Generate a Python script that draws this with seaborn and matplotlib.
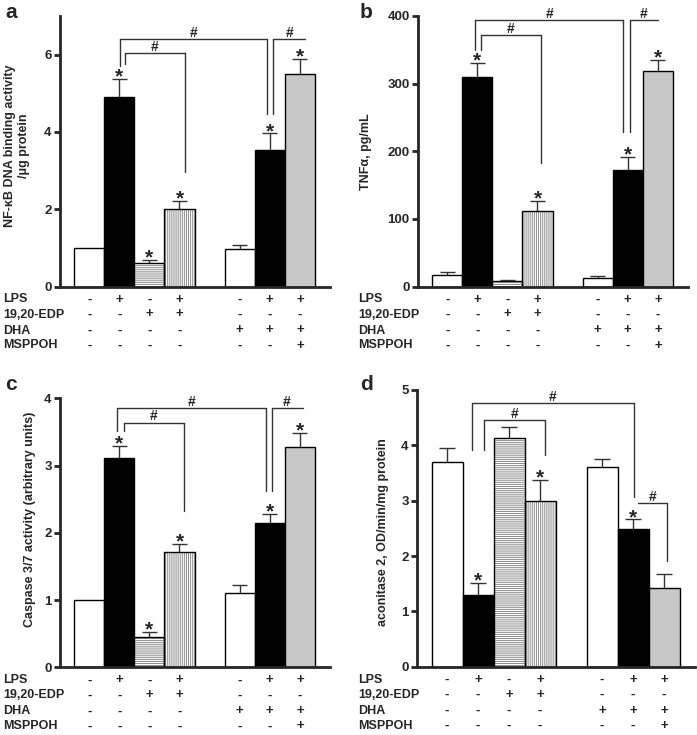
import numpy as np
import pandas as pd
import seaborn as sns
import matplotlib.pyplot as plt
from matplotlib.patches import Rectangle

# treatment groups, a blank slot separates the two groups
conditions = ["Control", "LPS", "19,20-EDP", "LPS+19,20-EDP", "DHA", "LPS+DHA", "LPS+DHA+MSPPOH"]
order = conditions[:4] + [""] + conditions[4:]

treatments = ["LPS", "19,20-EDP", "DHA", "MSPPOH"]
treatment_signs = [
    ["-", "+", "-", "+", "-", "+", "+"],
    ["-", "-", "+", "+", "-", "-", "-"],
    ["-", "-", "-", "-", "+", "+", "+"],
    ["-", "-", "-", "-", "-", "-", "+"],
]

# a: NF-kB DNA binding
nfkb_mean = [1.0, 4.9, 0.62, 2.0, 0.97, 3.53, 5.5]
nfkb_sem = [0.0, 0.48, 0.07, 0.21, 0.11, 0.43, 0.38]
nfkb_stars = ["LPS", "19,20-EDP", "LPS+19,20-EDP", "LPS+DHA", "LPS+DHA+MSPPOH"]

# b: TNF-alpha
tnf_mean = [17, 310, 8, 111, 13, 172, 319]
tnf_sem = [4, 20, 2, 16, 2.5, 20, 16]
tnf_stars = ["LPS", "LPS+19,20-EDP", "LPS+DHA", "LPS+DHA+MSPPOH"]

# c: caspase 3/7
casp_mean = [1.0, 3.11, 0.45, 1.71, 1.10, 2.14, 3.28]
casp_sem = [0.0, 0.18, 0.07, 0.13, 0.12, 0.14, 0.20]
casp_stars = ["LPS", "19,20-EDP", "LPS+19,20-EDP", "LPS+DHA", "LPS+DHA+MSPPOH"]

# d: aconitase 2
aco_mean = [3.69, 1.30, 4.13, 2.99, 3.60, 2.49, 1.42]
aco_sem = [0.27, 0.22, 0.20, 0.39, 0.15, 0.17, 0.25]
aco_stars = ["LPS", "LPS+19,20-EDP", "LPS+DHA"]

bar_colors = {"Control": "white", "LPS": "black", "19,20-EDP": "white", "LPS+19,20-EDP": "white",
              "DHA": "white", "LPS+DHA": "black", "LPS+DHA+MSPPOH": "#c8c8c8"}
hatches = {"19,20-EDP": "--------", "LPS+19,20-EDP": "||||||||"}

W, H = 697, 735

sns.set_style("ticks")
plt.rcParams["font.family"] = ["Liberation Sans", "DejaVu Sans"]
plt.rcParams["font.weight"] = "bold"
plt.rcParams["axes.labelweight"] = "bold"
plt.rcParams["hatch.linewidth"] = 0.7
plt.rcParams["hatch.color"] = "#8a8a8a"

line_c = "#333333"


def draw_panel(ax, mean, sem, stars, brackets, ylabel, ymax, yticks, label_x, label_y):
    df = pd.DataFrame({"condition": conditions, "mean": mean})
    sns.barplot(data=df, x="condition", y="mean", hue="condition", order=order, hue_order=conditions,
                palette=bar_colors, dodge=False, width=1, errorbar=None, edgecolor="black",
                linewidth=1, legend=False, ax=ax)

    for p in ax.patches:
        c = order[int(round(p.get_x() + p.get_width() / 2))]
        if c in hatches:
            p.set_hatch(hatches[c])
            p.set_edgecolor("#8a8a8a")
            p.set_linewidth(0)
            ax.add_patch(Rectangle((p.get_x(), p.get_y()), p.get_width(), p.get_height(),
                                   fill=False, edgecolor="black", lw=1, zorder=p.get_zorder() + 0.1))

    for c, m, s in zip(conditions, mean, sem):
        x = order.index(c)
        if s > 0:
            ax.vlines(x, m, m + s, color=line_c, lw=1, zorder=1)
            ax.hlines(m + s, x - 0.25, x + 0.25, color=line_c, lw=1)
        if c in stars:
            ax.annotate("*", (x, m + s), xytext=(0, -2.5), textcoords="offset points",
                        ha="center", va="baseline", fontsize=15, fontweight="bold")

    for x0, x1, y, y0, y1 in brackets:
        ax.plot([x0, x1], [y, y], color=line_c, lw=1, clip_on=False)
        if y0 is not None:
            ax.plot([x0, x0], [y0, y], color=line_c, lw=1, clip_on=False)
        if y1 is not None:
            ax.plot([x1, x1], [y1, y], color=line_c, lw=1, clip_on=False)
        ax.annotate("#", ((x0 + x1) / 2, y), xytext=(0, 1.5), textcoords="offset points",
                    ha="center", va="baseline", fontsize=10, fontweight="bold")

    ax.set_xlim(-0.97, 8.0)
    ax.set_ylim(0, ymax)
    ax.set_yticks(yticks)
    ax.set_xticks([])
    ax.set_xlabel("")
    ax.set_ylabel(ylabel, fontsize=9, fontweight="bold")
    ax.yaxis.set_label_coords(label_x, label_y)
    ax.tick_params(axis="y", direction="out", length=4, width=2, labelsize=9.5, pad=2)
    sns.despine(ax=ax)
    for s in ["left", "bottom"]:
        ax.spines[s].set_linewidth(2)


def draw_table(fig, ax, label_px):
    bottom = ax.get_position().y0
    offsets = [13, 28, 44, 59]
    for name, signs, off in zip(treatments, treatment_signs, offsets):
        fig.text(label_px / W, bottom - off / H, name, ha="left", va="center",
                 fontsize=9, fontweight="bold")
        for c, s in zip(conditions, signs):
            ax.annotate(s, (order.index(c), 0), xycoords=ax.get_xaxis_transform(),
                        xytext=(0, -off * 0.72), textcoords="offset points",
                        ha="center", va="center", fontsize=9.5, fontweight="bold",
                        annotation_clip=False)


fig = plt.figure(figsize=(W / 100, H / 100), dpi=100)

ax_a = fig.add_axes([60 / W, 1 - 286.5 / H, 270 / W, 270.5 / H])
ax_b = fig.add_axes([418 / W, 1 - 286.5 / H, 270 / W, 270.5 / H])
ax_c = fig.add_axes([60 / W, 1 - 667.3 / H, 270 / W, 269 / H])
ax_d = fig.add_axes([417 / W, 1 - 666.7 / H, 278 / W, 276.7 / H])

draw_panel(ax_a, nfkb_mean, nfkb_sem, nfkb_stars,
           [(1.03, 5.9, 6.41, 5.70, 4.47), (1.2, 3.17, 6.04, 5.76, 2.96), (6.12, 7.17, 6.41, 4.47, None)],
           "NF-\u03baB DNA binding activity\n/\u03bcg protein", 7, [0, 2, 4, 6], -0.11, 0.52)
draw_panel(ax_b, tnf_mean, tnf_sem, tnf_stars,
           [(0.94, 5.84, 394, 350, 228), (1.11, 3.13, 372, 350, 182), (6.06, 7.0, 394, 228, None)],
           "TNF\u03b1, pg/mL", 400, [0, 100, 200, 300, 400], -0.17, 0.5)
draw_panel(ax_c, casp_mean, casp_sem, casp_stars,
           [(0.94, 5.87, 3.86, 3.52, 2.62), (1.17, 3.14, 3.64, 3.52, 2.32), (6.06, 7.09, 3.86, 2.62, None)],
           "Caspase 3/7 activity (arbitrary units)", 4, [0, 1, 2, 3, 4], -0.09, 0.55)
draw_panel(ax_d, aco_mean, aco_sem, aco_stars,
           [(0.8, 6.02, 4.76, 3.92, 3.06), (1.18, 3.15, 4.46, 3.92, 3.83), (6.16, 7.11, 2.95, None, 1.91)],
           "aconitase 2, OD/min/mg protein", 5, [0, 1, 2, 3, 4, 5], -0.10, 0.485)

draw_table(fig, ax_a, 3)
draw_table(fig, ax_b, 358)
draw_table(fig, ax_c, 3)
draw_table(fig, ax_d, 358)

for letter, x, y in [("a", 5, 12), ("b", 360, 12), ("c", 5, 384), ("d", 360, 385)]:
    fig.text(x / W, 1 - y / H, letter, ha="left", va="center", fontsize=15, fontweight="bold")

fig.savefig("out.png", dpi=100)
